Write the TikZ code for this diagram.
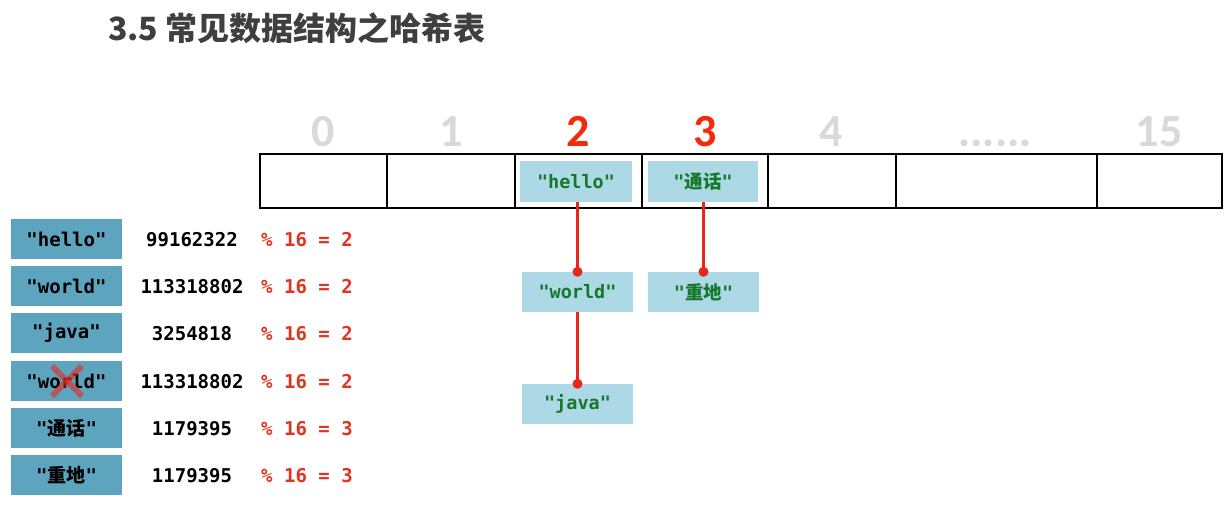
\documentclass[tikz,border=0pt]{standalone}
\usepackage{fontspec}
\setmainfont{Carlito}
\newfontfamily\cjk{Noto Sans CJK SC}
\newfontfamily\monof{DejaVu Sans Mono}
\usetikzlibrary{arrows.meta}
\definecolor{titlegray}{HTML}{3F3F3F}
\definecolor{idxgray}{HTML}{D9D9D9}
\definecolor{hotred}{HTML}{F52A0A}
\definecolor{modred}{HTML}{E2331C}
\definecolor{tealbox}{HTML}{5DA4BF}
\definecolor{lightbox}{HTML}{ADD8E6}
\definecolor{keygreen}{HTML}{17772A}
\definecolor{linkred}{HTML}{E8261A}
\tikzset{
  cell/.style={draw=black, line width=2pt, minimum height=54pt, inner sep=0pt},
  idx/.style={font=\fontsize{46}{46}\selectfont\bfseries, text=idxgray, inner sep=0pt, anchor=base},
  idxhot/.style={idx, text=hotred},
  keybox/.style={fill=tealbox, minimum width=111pt, minimum height=40pt, inner sep=0pt,
    font=\fontsize{19}{19}\selectfont\monof\bfseries, text=black},
  entry/.style={fill=lightbox, minimum width=111pt, minimum height=40pt, inner sep=0pt,
    font=\fontsize{18.5}{18}\selectfont\monof\bfseries, text=keygreen},
  hashnum/.style={font=\fontsize{19}{18}\selectfont\monof\bfseries, text=black, inner sep=0pt},
  modtxt/.style={font=\fontsize{19}{18}\selectfont\monof\bfseries, text=modred, inner sep=0pt},
  link/.style={draw=linkred, line width=2.2pt},
  dotend/.style={fill=linkred},
}
\newcommand{\cjkb}[1]{{\cjk\bfseries #1}}
\begin{document}
\begin{tikzpicture}[x=1pt,y=-1pt]
\fill[white] (0,0) rectangle (1228,506);
\useasboundingbox (0,0) rectangle (1228,506);

% title
\node[anchor=west, inner sep=0pt, text=titlegray, font=\fontsize{32}{32}\selectfont\cjk\bfseries] (title) at (108,28) {3.5 常见数据结构之哈希表};

% indices
\node[idx] (i0) at (323,146) {0};
\node[idx] (i1) at (451,146) {1};
\node[idxhot] (i2) at (578,146) {2};
\node[idxhot] (i3) at (705,146) {3};
\node[idx] (i4) at (831,146) {4};
\node[idx] (idots) at (995,146) {......};
\node[idx] (i15) at (1159,146) {15};

% array cells
\node[cell, minimum width=127pt] (c0) at (323.5,181) {};
\node[cell, minimum width=128pt] (c1) at (451,181) {};
\node[cell, minimum width=127pt] (c2) at (578.5,181) {};
\node[cell, minimum width=126pt] (c3) at (705,181) {};
\node[cell, minimum width=128pt] (c4) at (832,181) {};
\node[cell, minimum width=201pt] (cd) at (996.5,181) {};
\node[cell, minimum width=125pt] (c15) at (1159.5,181) {};

% entries
\node[entry, minimum width=112pt, minimum height=41pt] (h2) at (576,181.5) {"hello"};
\node[entry, minimum width=110pt, minimum height=41pt] (t3) at (703,181.5) {"\cjkb{通话}"};
\node[entry] (w2) at (577.5,292) {"world"};
\node[entry] (z3) at (703.5,292) {"\cjkb{重地}"};
\node[entry] (j2) at (577.5,404) {"java"};

% links
\draw[link] (w2.north |- h2.south) -- (w2.north);
\fill[dotend] (w2.north) circle (5);
\draw[link] (z3.north |- t3.south) -- (z3.north);
\fill[dotend] (z3.north) circle (5);
\draw[link] (w2.south) -- (j2.north);
\fill[dotend] (j2.north) circle (5);

% left keys
\node[keybox] (k1) at (66.5,239) {"hello"};
\node[keybox] (k2) at (66.5,286) {"world"};
\node[keybox] (k3) at (66.5,333) {"java"};
\node[keybox] (k4) at (66.5,381) {"world"};
\node[keybox] (k5) at (66.5,428) {"\cjkb{通话}"};
\node[keybox] (k6) at (66.5,475) {"\cjkb{重地}"};

% cross on k4
\draw[draw=linkred, opacity=0.6, line width=6pt] (52,366) -- (82,396);
\draw[draw=linkred, opacity=0.6, line width=6pt] (82,366) -- (52,396);

% hash numbers
\node[hashnum] (n1) at (192,240) {99162322};
\node[hashnum] (n2) at (192,287) {113318802};
\node[hashnum] (n3) at (192,334) {3254818};
\node[hashnum] (n4) at (192,382) {113318802};
\node[hashnum] (n5) at (192,429) {1179395};
\node[hashnum] (n6) at (192,476) {1179395};

% modulo
\node[modtxt] (m1) at (307,240) {\% 16 = 2};
\node[modtxt] (m2) at (307,287) {\% 16 = 2};
\node[modtxt] (m3) at (307,334) {\% 16 = 2};
\node[modtxt] (m4) at (307,382) {\% 16 = 2};
\node[modtxt] (m5) at (307,429) {\% 16 = 3};
\node[modtxt] (m6) at (307,476) {\% 16 = 3};
\end{tikzpicture}
\end{document}
